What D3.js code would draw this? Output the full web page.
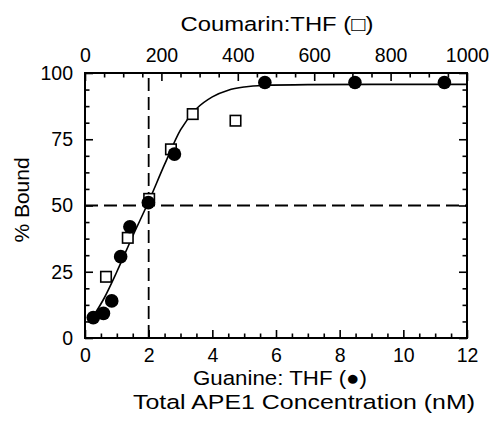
<!DOCTYPE html>
<html><head><meta charset="utf-8">
<script src="https://cdn.jsdelivr.net/npm/d3@7"></script>
<style>
body{margin:0;background:#fff;}
svg{display:block;}
text{font-family:"Liberation Sans",Arial,Helvetica,sans-serif;fill:#000;}
</style></head>
<body>
<svg id="chart" width="493" height="425"></svg>
<script>
// Guanine:THF (filled circles) – bottom axis, nM
const guanineX = [0.26, 0.58, 0.84, 1.12, 1.41, 1.99, 2.81, 5.65, 8.48, 11.29];
const guanineY = [7.7, 9.3, 14.0, 30.7, 42.0, 51.1, 69.4, 96.4, 96.4, 96.4];
// Coumarin:THF (open squares) – top axis
const coumarinX = [55, 112, 168, 225, 282, 394];
const coumarinY = [23.1, 37.8, 52.5, 71.2, 84.5, 82.0];
// Fitted curve, points
const fitX = [0.25, 0.6, 1.0, 1.5, 2.0, 2.5, 3.0, 3.5, 4.0, 4.5, 5.0, 5.6, 7.0, 9.0, 12.0];
const fitY = [8.0, 15.0, 25.0, 38.5, 51.5, 65.5, 78.5, 86.5, 91.0, 93.5, 94.7, 95.3, 95.6, 95.7, 95.7];
const bottomTicks = [0, 2, 4, 6, 8, 10, 12];
const topTicks = [0, 200, 400, 600, 800, 1000];
const yTicks = [0, 25, 50, 75, 100];
const refX = 2, refY = 50;

const L = 85, T = 73, W = 382, H = 265;
const svg = d3.select("#chart");
const g = svg.append("g").attr("transform", `translate(${L},${T})`);
const x = d3.scaleLinear().domain([0, 12]).range([0, W]);
const xTop = d3.scaleLinear().domain([0, 1000]).range([0, W]);
const y = d3.scaleLinear().domain([0, 100]).range([H, 0]);

const FS = "19.5px";
const major = 8, minor = 4.5;
const fmt = d3.format("d");

function styleAxis(sel) {
  sel.select(".domain").remove();
  sel.selectAll("line").attr("stroke", "#000").attr("stroke-width", 1.6);
  sel.selectAll("text").style("font-size", FS);
}
// bottom
const minorB = d3.range(0, 12.01, 0.5).filter(v => v % 2 !== 0);
g.append("g").attr("transform", `translate(0,${H})`)
  .call(d3.axisBottom(x).tickValues(bottomTicks).tickFormat(fmt).tickSizeInner(-major).tickSizeOuter(0).tickPadding(10))
  .call(styleAxis);
g.append("g").attr("transform", `translate(0,${H})`)
  .call(d3.axisBottom(x).tickValues(minorB).tickSizeInner(-minor).tickSizeOuter(0).tickFormat(""))
  .call(styleAxis);
// top
const minorT = d3.range(0, 1000.1, 50).filter(v => v % 200 !== 0);
g.append("g")
  .call(d3.axisTop(xTop).tickValues(topTicks).tickFormat(fmt).tickSizeInner(-major).tickSizeOuter(0).tickPadding(11))
  .call(styleAxis);
g.append("g")
  .call(d3.axisTop(xTop).tickValues(minorT).tickSizeInner(-minor).tickSizeOuter(0).tickFormat(""))
  .call(styleAxis);
// left
const minorY = d3.range(0, 100.1, 6.25).filter(v => v % 25 !== 0);
g.append("g")
  .call(d3.axisLeft(y).tickValues(yTicks).tickFormat(fmt).tickSizeInner(-major).tickSizeOuter(0).tickPadding(12))
  .call(styleAxis);
g.append("g")
  .call(d3.axisLeft(y).tickValues(minorY).tickSizeInner(-minor).tickSizeOuter(0).tickFormat(""))
  .call(styleAxis);
// right
g.append("g").attr("transform", `translate(${W},0)`)
  .call(d3.axisRight(y).tickValues(yTicks).tickSizeInner(-major).tickSizeOuter(0).tickFormat(""))
  .call(styleAxis);
g.append("g").attr("transform", `translate(${W},0)`)
  .call(d3.axisRight(y).tickValues(minorY).tickSizeInner(-minor).tickSizeOuter(0).tickFormat(""))
  .call(styleAxis);

// frame
g.append("rect").attr("x", 0).attr("y", 0).attr("width", W).attr("height", H)
  .attr("fill", "none").attr("stroke", "#000").attr("stroke-width", 2);

// reference dashed lines
g.append("line").attr("x1", x(refX)).attr("x2", x(refX)).attr("y1", y(0)).attr("y2", y(100))
  .attr("stroke", "#000").attr("stroke-width", 1.8).attr("stroke-dasharray", "13,6");
g.append("line").attr("x1", x(0)).attr("x2", x(12)).attr("y1", y(refY)).attr("y2", y(refY))
  .attr("stroke", "#000").attr("stroke-width", 1.8).attr("stroke-dasharray", "13,6");

// fit curve
const line = d3.line().x(d => x(d[0])).y(d => y(d[1])).curve(d3.curveMonotoneX);
g.append("path").datum(fitX.map((v, i) => [v, fitY[i]]))
  .attr("d", line).attr("fill", "none").attr("stroke", "#000").attr("stroke-width", 1.6);

// squares
const s = 10.5;
g.selectAll(".sq").data(coumarinX.map((v, i) => [v, coumarinY[i]])).enter()
  .append("rect").attr("x", d => xTop(d[0]) - s / 2).attr("y", d => y(d[1]) - s / 2)
  .attr("width", s).attr("height", s).attr("fill", "#fff").attr("stroke", "#000").attr("stroke-width", 1.6);
// circles
g.selectAll(".ci").data(guanineX.map((v, i) => [v, guanineY[i]])).enter()
  .append("circle").attr("cx", d => x(d[0])).attr("cy", d => y(d[1])).attr("r", 6.8).attr("fill", "#000");

// titles
const TF = "20.5px";
svg.append("text").attr("x", 277).attr("y", 31).attr("text-anchor", "middle").style("font-size", TF)
  .attr("textLength", 193).attr("lengthAdjust", "spacingAndGlyphs").text("Coumarin:THF (□)");
svg.append("text").attr("x", 280).attr("y", 385).attr("text-anchor", "middle").style("font-size", TF)
  .attr("textLength", 174).attr("lengthAdjust", "spacingAndGlyphs").text("Guanine: THF (●)");
svg.append("text").attr("x", 304).attr("y", 409).attr("text-anchor", "middle").style("font-size", TF)
  .attr("textLength", 342).attr("lengthAdjust", "spacingAndGlyphs").text("Total APE1 Concentration (nM)");
svg.append("text").attr("transform", "translate(29,200) rotate(-90)").attr("text-anchor", "middle").style("font-size", "21px")
  .text("% Bound");
</script>
</body></html>
